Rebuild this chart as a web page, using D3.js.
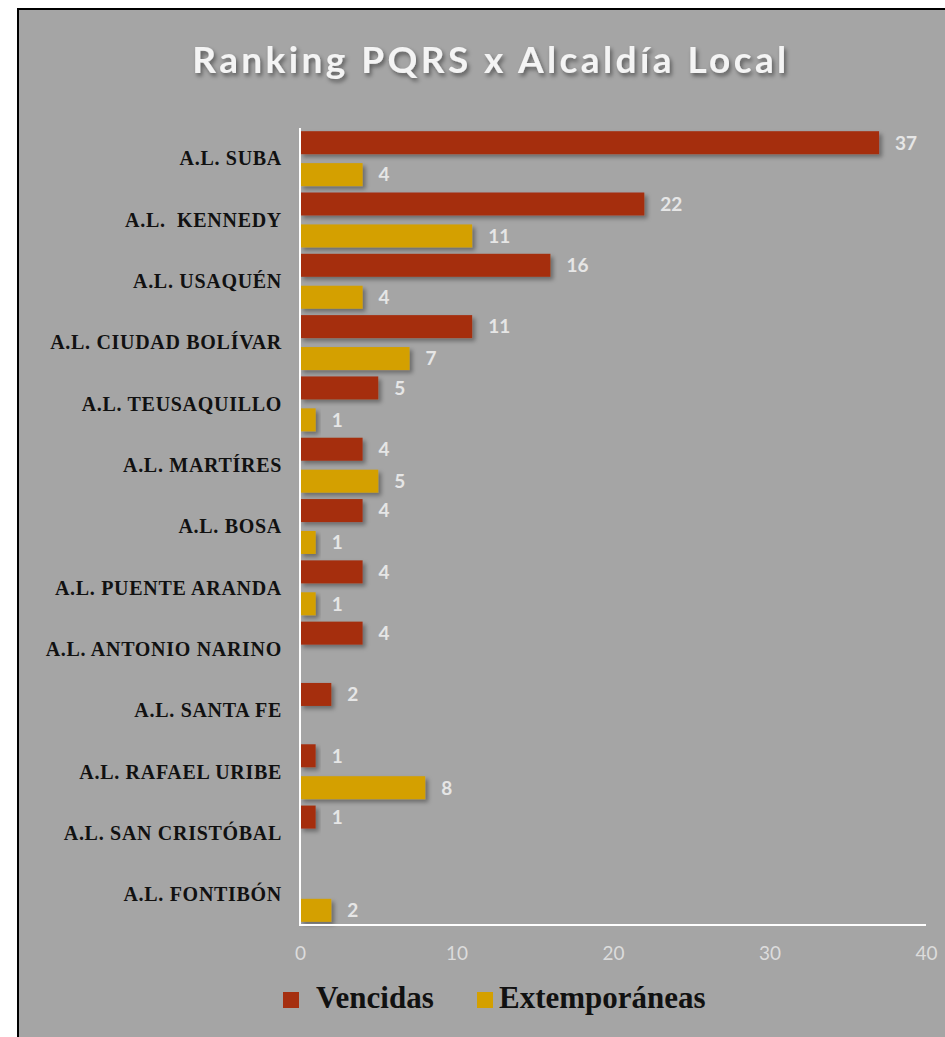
<!DOCTYPE html>
<html>
<head>
<meta charset="utf-8">
<script src="https://cdn.jsdelivr.net/npm/d3@7"></script>
<style>
  body { margin: 0; background: #fff; }
  svg { display: block; }
</style>
</head>
<body>
<script>
// data
var categories = ["A.L. SUBA", "A.L.  KENNEDY", "A.L. USAQUÉN", "A.L. CIUDAD BOLÍVAR", "A.L. TEUSAQUILLO",
  "A.L. MARTÍRES", "A.L. BOSA", "A.L. PUENTE ARANDA", "A.L. ANTONIO NARINO", "A.L. SANTA FE",
  "A.L. RAFAEL URIBE", "A.L. SAN CRISTÓBAL", "A.L. FONTIBÓN"];
var seriesNames = ["Vencidas", "Extemporáneas"];
var vencidas = [37, 22, 16, 11, 5, 4, 4, 4, 4, 2, 1, 1, null];
var extemporaneas = [4, 11, 4, 7, 1, 5, 1, 1, null, null, 8, null, 2];
var xTicks = [0, 10, 20, 30, 40];

var colors = { "Vencidas": "#a52f10", "Extemporáneas": "#d4a000" };

var W = 945, H = 1037;
var svg = d3.select("body").append("svg").attr("width", W).attr("height", H);

var defs = svg.append("defs");
var sh = defs.append("filter").attr("id", "shadow")
  .attr("x", "-20%").attr("y", "-30%").attr("width", "150%").attr("height", "180%");
sh.append("feDropShadow").attr("dx", 3).attr("dy", 3).attr("stdDeviation", 2)
  .attr("flood-color", "#000").attr("flood-opacity", 0.35);
var tsh = defs.append("filter").attr("id", "tshadow")
  .attr("x", "-10%").attr("y", "-30%").attr("width", "120%").attr("height", "170%");
tsh.append("feDropShadow").attr("dx", 2).attr("dy", 3).attr("stdDeviation", 2)
  .attr("flood-color", "#000").attr("flood-opacity", 0.45);

// panel
svg.append("rect").attr("x", 17).attr("y", 8).attr("width", W - 17).attr("height", H - 8)
  .style("fill", "#a5a5a5");
svg.append("path").attr("d", "M18,1037V9H945")
  .style("fill", "none").style("stroke", "#000").style("stroke-width", 2);

var margin = { left: 300, right: 19, top: 128, bottom: 112 };
var x = d3.scaleLinear().domain([0, 40]).range([margin.left, W - margin.right]);
var y = d3.scaleBand().domain(categories).range([margin.top, H - margin.bottom]).padding(0);
var y1 = d3.scaleBand().domain(seriesNames).range([0, y.bandwidth()])
  .paddingInner(0.28).paddingOuter(0.1);

svg.append("text")
  .attr("x", 491).attr("y", 73)
  .attr("text-anchor", "middle")
  .style("font-family", "Lato, 'Open Sans', sans-serif")
  .style("font-weight", "bold")
  .style("font-size", "37px")
  .style("letter-spacing", "3.4px")
  .style("fill", "#f4f4f4")
  .attr("filter", "url(#tshadow)")
  .text("Ranking PQRS x Alcaldía Local");

var rows = categories.map(function (c, i) {
  return { cat: c, values: [
    { name: "Vencidas", v: vencidas[i] },
    { name: "Extemporáneas", v: extemporaneas[i] }
  ] };
});

var groups = svg.selectAll("g.row").data(rows).enter().append("g")
  .attr("class", "row")
  .attr("transform", function (d) { return "translate(0," + y(d.cat) + ")"; });

var marks = groups.selectAll("g.mark")
  .data(function (d) { return d.values.filter(function (e) { return e.v != null; }); })
  .enter().append("g").attr("class", "mark");

marks.append("rect")
  .attr("x", x(0))
  .attr("y", function (d) { return y1(d.name); })
  .attr("width", function (d) { return x(d.v) - x(0); })
  .attr("height", y1.bandwidth())
  .style("fill", function (d) { return colors[d.name]; })
  .attr("filter", "url(#shadow)");

marks.append("text")
  .attr("x", function (d) { return x(d.v) + 16; })
  .attr("y", function (d) { return y1(d.name) + y1.bandwidth() / 2; })
  .attr("dy", "0.36em")
  .style("font-family", "Lato, 'Open Sans', sans-serif")
  .style("font-weight", "bold")
  .style("font-size", "19px")
  .style("fill", "#e6e6e6")
  .text(function (d) { return d.v; });

// category labels
svg.selectAll("text.cat").data(categories).enter().append("text")
  .attr("class", "cat")
  .attr("x", 282)
  .attr("y", function (d) { return y(d) + y.bandwidth() / 2; })
  .attr("dy", "0.34em")
  .attr("text-anchor", "end")
  .attr("xml:space", "preserve")
  .style("white-space", "pre")
  .style("font-family", "'Liberation Serif', 'DejaVu Serif', serif")
  .style("font-weight", "bold")
  .style("font-size", "20px")
  .style("letter-spacing", "0.7px")
  .style("fill", "#111")
  .text(function (d) { return d; });

// axes lines
svg.append("line").attr("x1", x(0)).attr("x2", x(0))
  .attr("y1", margin.top).attr("y2", H - margin.bottom)
  .style("stroke", "#fff").style("stroke-width", 2);
svg.append("line").attr("x1", x(0) - 1).attr("x2", x(40))
  .attr("y1", H - margin.bottom).attr("y2", H - margin.bottom)
  .style("stroke", "#fff").style("stroke-width", 2);

var xAxis = d3.axisBottom(x).tickValues(xTicks).tickSize(0).tickPadding(22);
var gx = svg.append("g").attr("transform", "translate(0," + (H - margin.bottom) + ")").call(xAxis);
gx.select(".domain").remove();
gx.selectAll("text")
  .style("font-family", "Lato, 'Open Sans', sans-serif")
  .style("font-size", "19px")
  .style("fill", "#dcdcdc");

// legend
var legendX = [283, 477];
var legendTextDx = [33, 22];
var leg = svg.selectAll("g.leg").data(seriesNames).enter().append("g")
  .attr("class", "leg")
  .attr("transform", function (d, i) { return "translate(" + legendX[i] + ",992)"; });
leg.append("rect").attr("width", 16).attr("height", 16)
  .style("fill", function (d) { return colors[d]; });
leg.append("text").attr("x", function (d, i) { return legendTextDx[i]; }).attr("y", 16)
  .style("font-family", "'Liberation Serif', serif")
  .style("font-weight", "bold")
  .style("font-size", "31px")
  .style("fill", "#111")
  .text(function (d) { return d; });
</script>
</body>
</html>
